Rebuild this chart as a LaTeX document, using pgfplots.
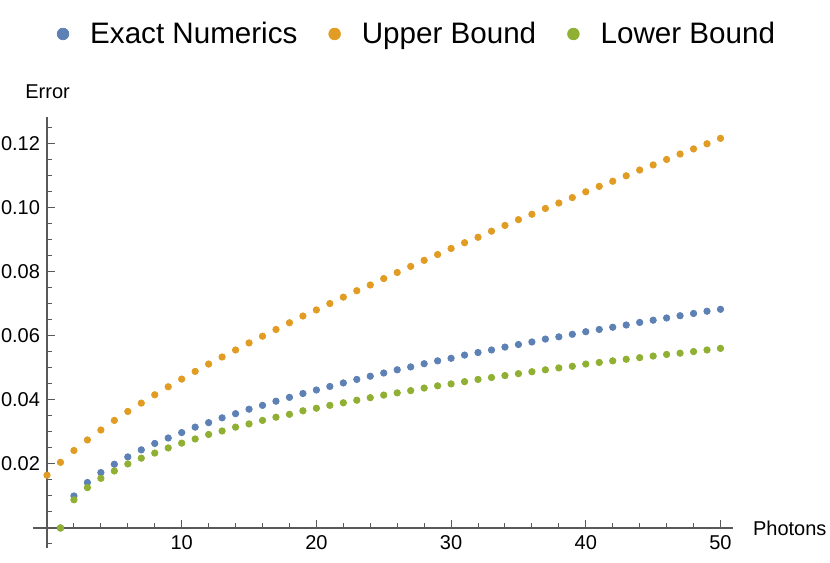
\documentclass[border=0pt]{standalone}
\usepackage{fontspec}
\setmainfont{Liberation Sans}
\usepackage{pgfplots}
\pgfplotsset{compat=1.18}
\definecolor{mmablue}{rgb}{0.368417,0.506779,0.709798}
\definecolor{mmaorange}{rgb}{0.880722,0.611041,0.142051}
\definecolor{mmagreen}{rgb}{0.560181,0.691569,0.194885}
\definecolor{axisgray}{gray}{0.35}

\begin{document}
\begin{tikzpicture}
\begin{axis}[
    scale only axis,
    width=349.85pt, height=215.65pt,
    xmin=-1.04, xmax=50.9,
    ymin=-0.0063, ymax=0.1284,
    axis lines=middle,
    axis line style={axisgray, line width=0.55pt, -},
    every tick/.style={axisgray, line width=0.5pt},
    tick align=inside,
    major tick length=4pt,
    minor tick length=2.4pt,
    xtick={10,20,30,40,50},
    minor xtick={2,4,6,8,12,14,16,18,22,24,26,28,32,34,36,38,42,44,46,48},
    ytick={0.02,0.04,0.06,0.08,0.10,0.12},
    minor ytick={-0.005,0.005,0.01,0.015,0.025,0.03,0.035,0.045,0.05,0.055,0.065,0.07,0.075,0.085,0.09,0.095,0.105,0.11,0.115,0.125},
    scaled y ticks=false,
    yticklabel style={/pgf/number format/.cd, fixed, fixed zerofill, precision=2, assume math mode=true},
    xticklabel style={/pgf/number format/assume math mode=true},
    tick label style={font=\fontsize{10}{12}\selectfont, black},
    xlabel={Photons},
    ylabel={Error},
    xlabel style={at={(axis cs:52.39,-0.00228)}, anchor=base west, inner sep=0pt, font=\fontsize{10}{12}\selectfont},
    ylabel style={at={(axis cs:-1.633,0.134)}, anchor=base west, inner sep=0pt, rotate=0, font=\fontsize{10}{12}\selectfont},
    clip=false,
    legend columns=3,
    legend style={at={(axis cs:27.39,0.1543)}, anchor=center, draw=none, fill=none,
        font=\fontsize{14.8}{17}\selectfont, nodes={inner sep=0pt},
        /tikz/every odd column/.append style={column sep=10.5pt},
        /tikz/every even column/.append style={column sep=15.5pt}},
    legend image code/.code={\fill[#1] (0pt,0pt) circle (2.9pt);},
]
% Exact Numerics
\addplot[only marks, mark=*, mark size=1.6pt, color=mmablue] coordinates {
(1,0.0000) (2,0.0100) (3,0.0142) (4,0.0173) (5,0.0199) (6,0.0222) (7,0.0244) (8,0.0264) (9,0.0281) (10,0.0298)
(11,0.0315) (12,0.0329) (13,0.0344) (14,0.0357) (15,0.0371) (16,0.0383) (17,0.0396) (18,0.0408) (19,0.0420) (20,0.0431)
(21,0.0442) (22,0.0453) (23,0.0464) (24,0.0474) (25,0.0484) (26,0.0494) (27,0.0503) (28,0.0513) (29,0.0522) (30,0.0530)
(31,0.0540) (32,0.0548) (33,0.0556) (34,0.0565) (35,0.0573) (36,0.0581) (37,0.0590) (38,0.0597) (39,0.0605) (40,0.0613)
(41,0.0620) (42,0.0627) (43,0.0634) (44,0.0642) (45,0.0649) (46,0.0656) (47,0.0663) (48,0.0670) (49,0.0677) (50,0.0683)
};
% Upper Bound
\addplot[only marks, mark=*, mark size=1.6pt, color=mmaorange] coordinates {
(0,0.0165) (1,0.0205) (2,0.0242) (3,0.0275) (4,0.0306) (5,0.0336) (6,0.0364) (7,0.0390) (8,0.0416) (9,0.0441) (10,0.0465)
(11,0.0489) (12,0.0512) (13,0.0534) (14,0.0556) (15,0.0578) (16,0.0599) (17,0.0620) (18,0.0641) (19,0.0662) (20,0.0681)
(21,0.0701) (22,0.0721) (23,0.0741) (24,0.0759) (25,0.0779) (26,0.0798) (27,0.0817) (28,0.0836) (29,0.0854) (30,0.0873)
(31,0.0891) (32,0.0908) (33,0.0927) (34,0.0945) (35,0.0963) (36,0.0980) (37,0.0998) (38,0.1015) (39,0.1032) (40,0.1050)
(41,0.1067) (42,0.1083) (43,0.1100) (44,0.1118) (45,0.1134) (46,0.1151) (47,0.1168) (48,0.1184) (49,0.1200) (50,0.1217)
};
% Lower Bound
\addplot[only marks, mark=*, mark size=1.6pt, color=mmagreen] coordinates {
(1,0.0000) (2,0.0088) (3,0.0126) (4,0.0155) (5,0.0178) (6,0.0200) (7,0.0218) (8,0.0234) (9,0.0250) (10,0.0265)
(11,0.0278) (12,0.0292) (13,0.0303) (14,0.0315) (15,0.0325) (16,0.0336) (17,0.0346) (18,0.0355) (19,0.0366) (20,0.0374)
(21,0.0383) (22,0.0391) (23,0.0399) (24,0.0407) (25,0.0415) (26,0.0422) (27,0.0429) (28,0.0437) (29,0.0444) (30,0.0450)
(31,0.0457) (32,0.0464) (33,0.0470) (34,0.0476) (35,0.0482) (36,0.0488) (37,0.0494) (38,0.0500) (39,0.0505) (40,0.0512)
(41,0.0517) (42,0.0522) (43,0.0527) (44,0.0532) (45,0.0537) (46,0.0542) (47,0.0546) (48,0.0551) (49,0.0556) (50,0.0561)
};
\legend{Exact Numerics, Upper Bound, Lower Bound}
\coordinate (bbsw) at (axis cs:-3.489,-0.010719);
\coordinate (bbne) at (axis cs:58.13,0.16491);
\end{axis}
\pgfresetboundingbox
\useasboundingbox (bbsw) rectangle (bbne);
\end{tikzpicture}
\end{document}
